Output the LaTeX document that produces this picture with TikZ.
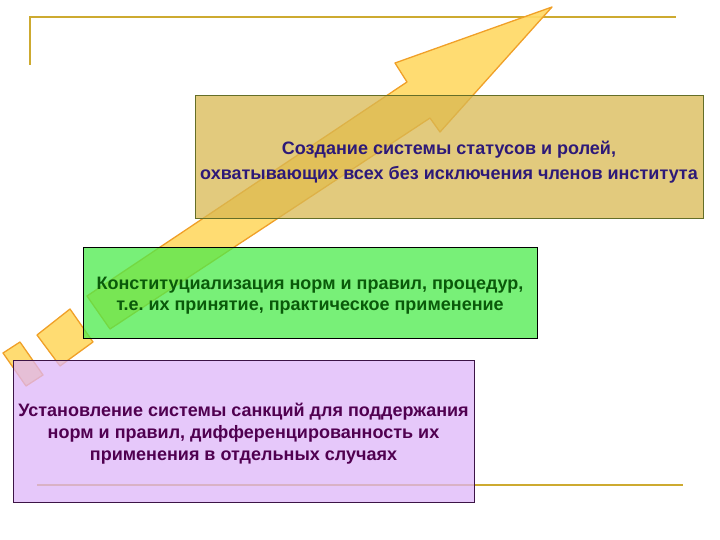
\documentclass[tikz,border=0pt]{standalone}
\usepackage{fontspec}
\setmainfont{Liberation Sans}
\frenchspacing
\definecolor{linegold}{RGB}{205,170,48}
\definecolor{arrowfill}{RGB}{255,217,102}
\definecolor{arrowdraw}{RGB}{240,160,40}
\definecolor{goldbox}{RGB}{216,184,82}
\definecolor{goldborder}{RGB}{100,110,40}
\definecolor{greenbox}{RGB}{75,235,75}
\definecolor{purplebox}{RGB}{222,182,248}
\definecolor{purpleborder}{RGB}{60,20,70}
\definecolor{goldtext}{RGB}{45,25,120}
\definecolor{greentext}{RGB}{10,90,10}
\definecolor{purpletext}{RGB}{80,0,80}
\begin{document}
\begin{tikzpicture}[x=1pt,y=-1pt,
  frameline/.style={draw=linegold,line width=2pt},
  arrowpart/.style={fill=arrowfill,draw=arrowdraw,line width=1.3pt,line join=round,fill opacity=0.92},
  box/.style={rectangle,inner sep=0pt,fill opacity=0.75,line width=1pt},
  boxtext/.style={inner sep=0pt,align=center,font=\bfseries\fontsize{18}{#1}\selectfont}
]
\useasboundingbox (0,0) rectangle (720,540);
% frame lines
\coordinate (tl) at (30,17);
\coordinate (tr) at (676,17);
\coordinate (lv) at (30,65);
\coordinate (bl) at (37,485);
\coordinate (br) at (683,485);
\draw[frameline] (lv) -- (tl) -- (tr);
\draw[frameline] (bl) -- (br);
% arrow
\draw[arrowpart] (552,7) -- (395,63) -- (407,82) -- (87,296) -- (110,329) -- (430,118) -- (440,132) -- cycle;
\draw[arrowpart] (37,335) -- (70,309) -- (93,342) -- (60,366) -- cycle;
\draw[arrowpart] (3,353) -- (20,342) -- (43,375) -- (26,386) -- cycle;
% boxes
\node[box,fill=goldbox,draw=goldborder,minimum width=508pt,minimum height=123pt] (gold) at (449,157.5) {};
\node[box,fill=greenbox,draw=black,minimum width=454pt,minimum height=91pt] (green) at (310,292.5) {};
\node[box,fill=purplebox,draw=purpleborder,minimum width=461pt,minimum height=142pt] (purple) at (243.5,431) {};
% texts
\node[boxtext=25,text=goldtext] (goldlabel) at ([yshift=-5pt]gold.center)
  {Создание системы статусов и ролей,\\охватывающих всех без исключения членов института};
\node[boxtext=21,text=greentext] (greenlabel) at ([yshift=-3pt]green.center)
  {Конституциализация норм и правил, процедур,\\т.е. их принятие, практическое применение};
\node[boxtext=22,text=purpletext] (purplelabel) at ([yshift=-3pt]purple.center)
  {Установление системы санкций для поддержания\\норм и правил, дифференцированность их\\применения в отдельных случаях};
\end{tikzpicture}
\end{document}
